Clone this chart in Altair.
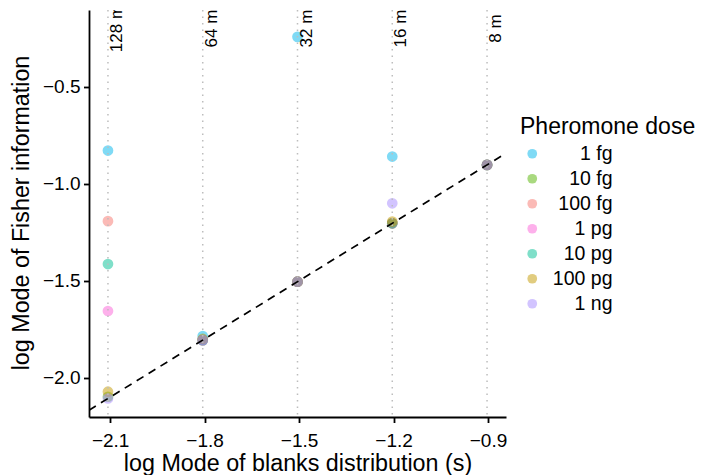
import altair as alt
import pandas as pd

# ---------------- data ----------------
doses = ["1 fg", "10 fg", "100 fg", "1 pg", "10 pg", "100 pg", "1 ng"]
colors = ["#00B6EB", "#53B400", "#F8766D", "#FB61D7", "#00C094", "#C49A00", "#A58AFF"]

x_vals = [-2.107, -1.806, -1.505, -1.204, -0.903]
x_labels = ["128 m", "64 m", "32 m", "16 m", "8 m"]
label_y = -0.2

y_1fg = [-0.829, -1.785, -0.243, -0.860, -0.903]
y_10fg = [-2.098, -1.806, -1.505, -1.204, -0.903]
y_100fg = [-1.193, -1.806, -1.505, -1.204, -0.903]
y_1pg = [-1.656, -1.806, -1.505, -1.204, -0.903]
y_10pg = [-1.414, -1.806, -1.505, -1.204, -0.903]
y_100pg = [-2.072, -1.800, -1.505, -1.195, -0.903]
y_1ng = [-2.107, -1.806, -1.505, -1.101, -0.903]

x_ticks = [-2.1, -1.8, -1.5, -1.2, -0.9]
y_ticks = [-2.0, -1.5, -1.0, -0.5]

series = [y_1fg, y_10fg, y_100fg, y_1pg, y_10pg, y_100pg, y_1ng]

rows = []
for lab, ys in zip(doses, series):
    for xv, yv in zip(x_vals, ys):
        rows.append({"x": xv, "y": yv, "dose": lab})
pts = pd.DataFrame(rows)

# domains with 5% expansion (ggplot-like)
xmin, xmax = min(x_vals), max(x_vals)
xpad = 0.05 * (xmax - xmin)
xdom = [xmin - xpad, xmax + xpad]
all_y = [v for s in series for v in s] + [label_y]
ymin, ymax = min(all_y), max(all_y)
ypad = 0.05 * (ymax - ymin)
ydom = [ymin - ypad, ymax + ypad]

FONT = "Liberation Sans"

xscale = alt.Scale(domain=xdom, nice=False, zero=False)
yscale = alt.Scale(domain=ydom, nice=False, zero=False)

xaxis = alt.Axis(values=x_ticks, format=".1f", title="log Mode of blanks distribution (s)",
                 titleY=53, titleBaseline="alphabetic", labelPadding=9)
yaxis = alt.Axis(values=y_ticks, format=".1f", title="log Mode of Fisher information",
                 titleX=-60.7, titleY=202.5, titleBaseline="alphabetic", titleAlign="center",
                 titleAngle=270, labelPadding=3.5)

points = alt.Chart(pts).mark_circle(size=115, opacity=0.5).encode(
    x=alt.X("x:Q", scale=xscale, axis=xaxis),
    y=alt.Y("y:Q", scale=yscale, axis=yaxis),
    color=alt.Color("dose:N", scale=alt.Scale(domain=doses, range=colors),
                    sort=doses,
                    legend=alt.Legend(title="Pheromone dose", orient="none",
                                      legendX=431, legendY=106,
                                      symbolType="circle", symbolSize=95,
                                      symbolOpacity=0.5, symbolStrokeWidth=0,
                                      labelFontSize=19.5, titleFontSize=23,
                                      labelAlign="right",
                                      rowPadding=4.0, titlePadding=5,
                                      labelOffset=70.5, symbolOffset=2.5, padding=0)),
)

vl = pd.DataFrame({"x": x_vals, "lab": x_labels, "y": [label_y] * len(x_vals)})

rules = alt.Chart(vl).mark_rule(strokeDash=[1.5, 5], color="#bdbdbd", strokeWidth=1.5).encode(
    x=alt.X("x:Q", scale=xscale)
)

texts = alt.Chart(vl).mark_text(angle=270, align="center", baseline="top", dy=1,
                                fontSize=17, font=FONT, color="black", clip=True).encode(
    x=alt.X("x:Q", scale=xscale),
    y=alt.Y("y:Q", scale=yscale),
    text="lab:N",
)

ident = pd.DataFrame({"x": xdom, "y": xdom})
line = alt.Chart(ident).mark_line(strokeDash=[8, 6], color="black", strokeWidth=1.7, clip=True).encode(
    x=alt.X("x:Q", scale=xscale),
    y=alt.Y("y:Q", scale=yscale),
)

chart = alt.layer(points, rules, line, texts).properties(
    width=417, height=407,
    autosize=alt.AutoSizeParams(type="none"),
    padding={"left": 81, "top": 2, "right": 190, "bottom": 58},
).configure_view(stroke=None).configure_axis(
    grid=False, domainColor="black", domainWidth=1.8, tickColor="black", tickWidth=1.8,
    tickSize=5.5, labelColor="black", labelFontSize=19, labelFont=FONT,
    titleFont=FONT, titleFontSize=23.3, titleFontWeight="normal", titleColor="black",
).configure_legend(
    labelFont=FONT, titleFont=FONT, labelColor="black", titleColor="black",
    titleFontWeight="normal",
)

chart.save("out.html", embed_options={"renderer": "svg", "actions": False})
